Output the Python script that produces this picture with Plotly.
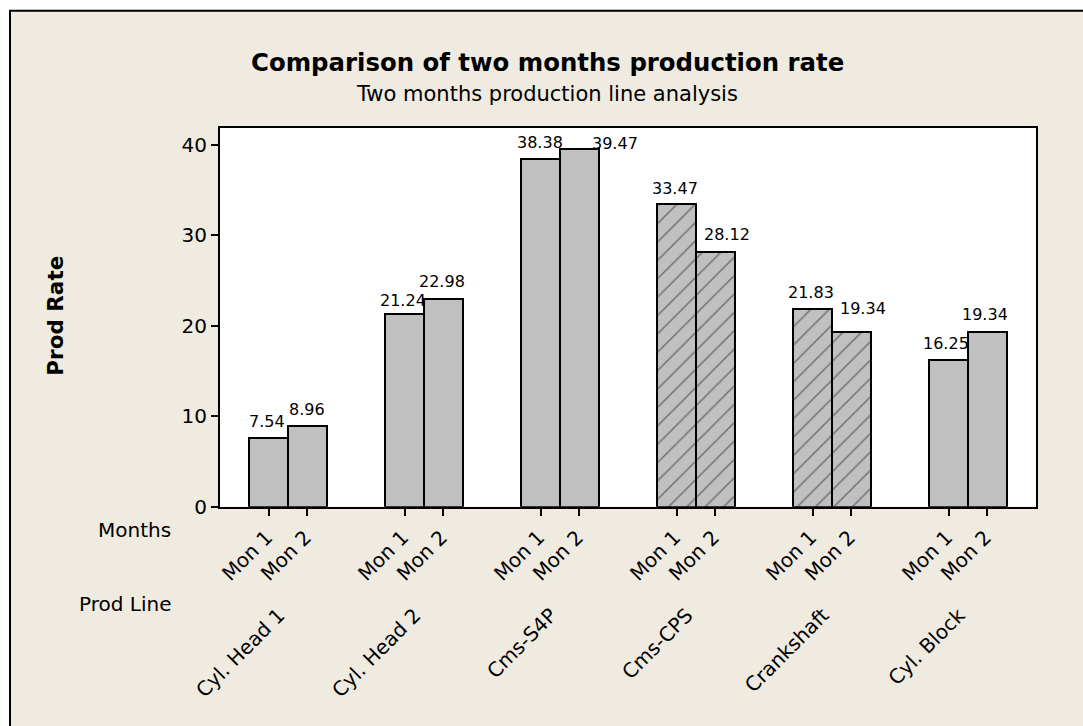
import plotly.graph_objects as go

# Production rate per line for the two months
prod_lines = ["Cyl. Head 1", "Cyl. Head 2", "Cms-S4P", "Cms-CPS", "Crankshaft", "Cyl. Block"]
months = ["Mon 1", "Mon 2"]
mon1_rate = [7.54, 21.24, 38.38, 33.47, 21.83, 16.25]
mon2_rate = [8.96, 22.98, 39.47, 28.12, 19.34, 19.34]
y_ticks = [0, 10, 20, 30, 40]

# Styling
hatched = [False, False, False, True, True, False]
label_dx = [[-1.5, 0], [-1.5, -1], [-1, 36], [-2, 12], [-1.5, 12], [-2.5, -2]]
label_dy = [[17, 16], [14, 17], [17, 6], [15, 18], [17, 23], [16, 17]]

W, H = 1083, 726
ML, MR, MT, MB = 220, 47, 128, 20
PW, PH = W - ML - MR, H - MT - MB
AXIS_BOTTOM_PX = 509.3


def fx(px):
    return (px - ML) / PW


def fy(py):
    return (H - MB - py) / PH


FONT = "DejaVu Sans"
BAR_W = 0.285
BAR_FILL = "#c0c0c0"

groups = list(range(len(prod_lines)))
x1 = [g - BAR_W / 2 for g in groups]
x2 = [g + BAR_W / 2 for g in groups]
shapes_pat = ["/" if h else "" for h in hatched]

fig = go.Figure()
for xs, vals in ((x1, mon1_rate), (x2, mon2_rate)):
    fig.add_trace(go.Bar(
        x=xs, y=vals, width=BAR_W,
        marker=dict(
            color=BAR_FILL,
            line=dict(color="black", width=2),
            pattern=dict(shape=shapes_pat, fgcolor="#1a1a1a", bgcolor=BAR_FILL,
                         size=13, solidity=0.11),
        ),
        showlegend=False, hoverinfo="skip",
    ))

# carrier trace for the production-line axis
fig.add_trace(go.Scatter(x=groups, y=[0] * len(groups), xaxis="x2", yaxis="y",
                         mode="markers", marker=dict(opacity=0), showlegend=False,
                         hoverinfo="skip"))

# value labels above the bars
annotations = []
for g in groups:
    for k, (xs, vals) in enumerate(((x1, mon1_rate), (x2, mon2_rate))):
        annotations.append(dict(
            x=xs[g], y=vals[g], xref="x", yref="y", text=f"{vals[g]:.2f}",
            showarrow=False, xanchor="center", yanchor="middle",
            xshift=label_dx[g][k], yshift=label_dy[g][k],
            font=dict(family=FONT, size=16, color="black"),
        ))

# titles and row labels
annotations += [
    dict(x=fx(547), y=fy(62.5), xref="paper", yref="paper", showarrow=False,
         text="<b>Comparison of two months production rate</b>",
         xanchor="center", yanchor="middle",
         font=dict(family=FONT, size=24.4, color="black")),
    dict(x=fx(547), y=fy(94), xref="paper", yref="paper", showarrow=False,
         text="Two months production line analysis",
         xanchor="center", yanchor="middle",
         font=dict(family=FONT, size=21, color="black")),
    dict(x=fx(56), y=fy(317), xref="paper", yref="paper", showarrow=False,
         text="<b>Prod Rate</b>", textangle=-90,
         xanchor="center", yanchor="middle",
         font=dict(family=FONT, size=21.5, color="black")),
    dict(x=fx(173), y=fy(533), xref="paper", yref="paper", showarrow=False,
         text="Months", xanchor="right", yanchor="middle",
         font=dict(family=FONT, size=20, color="black")),
    dict(x=fx(173), y=fy(607), xref="paper", yref="paper", showarrow=False,
         text="Prod Line", xanchor="right", yanchor="middle",
         font=dict(family=FONT, size=20, color="black")),
]

shapes = [
    # beige frame
    dict(type="rect", xref="paper", yref="paper", layer="below",
         x0=fx(10), x1=fx(1100), y0=fy(745), y1=fy(10),
         fillcolor="#efebe1", line=dict(color="black", width=2)),
    # white plotting area
    dict(type="rect", xref="paper", yref="paper", layer="below",
         x0=0, x1=1, y0=fy(AXIS_BOTTOM_PX), y1=1,
         fillcolor="white", line=dict(width=0)),
]

fig.update_layout(
    width=W, height=H,
    margin=dict(l=ML, r=MR, t=MT, b=MB),
    paper_bgcolor="white", plot_bgcolor="rgba(0,0,0,0)",
    barmode="overlay", bargap=0,
    font=dict(family=FONT, color="black"),
    shapes=shapes, annotations=annotations,
    xaxis=dict(
        range=[-0.5, len(prod_lines) - 0.5],
        tickmode="array", tickvals=x1 + x2,
        ticktext=[months[0]] * len(groups) + [months[1]] * len(groups),
        tickangle=-45, ticks="outside", ticklen=7, tickwidth=1.5, tickcolor="black",
        tickfont=dict(family=FONT, size=20, color="black"),
        ticklabelshift=-2, ticklabelstandoff=2,
        showline=True, linewidth=2, linecolor="black", mirror=True,
        showgrid=False, zeroline=False, anchor="y", fixedrange=True,
    ),
    xaxis2=dict(
        range=[-0.5, len(prod_lines) - 0.5], overlaying="x", anchor="free",
        position=fy(602), side="bottom",
        tickmode="array", tickvals=groups, ticktext=prod_lines,
        tickangle=-45, ticks="", showline=False, showgrid=False, zeroline=False,
        ticklabelshift=-9,
        tickfont=dict(family=FONT, size=20, color="black"),
    ),
    yaxis=dict(
        domain=[fy(AXIS_BOTTOM_PX), 1],
        range=[0, (AXIS_BOTTOM_PX - MT) / 9.115],
        tickmode="array", tickvals=y_ticks,
        ticks="outside", ticklen=7, tickwidth=1.5, tickcolor="black",
        tickfont=dict(family=FONT, size=20, color="black"),
        showline=True, linewidth=2, linecolor="black", mirror=True,
        showgrid=False, zeroline=False,
    ),
)

fig.write_html("out.html")
